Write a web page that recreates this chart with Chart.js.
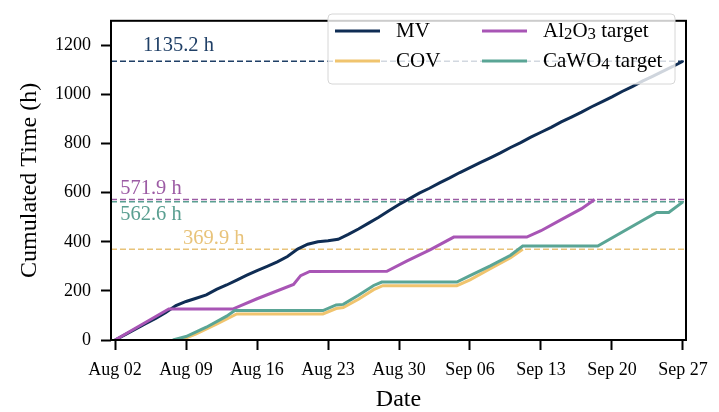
<!DOCTYPE html>
<html>
<head>
<meta charset="utf-8">
<script src="https://cdn.jsdelivr.net/npm/chart.js@4.4.1/dist/chart.umd.min.js"></script>
<style>
    html, body { margin: 0; padding: 0; background: #ffffff; }
    #wrap { width: 719px; height: 412px; }
</style>
</head>
<body>
<div id="wrap"><canvas id="timeChart" width="719" height="412"></canvas></div>
<script>
// x values are days since Aug 02
const tickDays = [0, 7, 14, 21, 28, 35, 42, 49, 56];
const tickLabels = ['Aug 02', 'Aug 09', 'Aug 16', 'Aug 23', 'Aug 30', 'Sep 06', 'Sep 13', 'Sep 20', 'Sep 27'];
const yTicks = [0, 200, 400, 600, 800, 1000, 1200];

const mvDays = [0, 1, 2, 3, 4, 5, 6, 7, 8, 9, 10, 11, 12, 13, 14, 15, 16, 17, 18, 19, 20, 21, 22, 23, 24, 25, 26, 27, 28,
    29, 30, 31, 32, 33, 34, 35, 36, 37, 38, 39, 40, 41, 42, 43, 44, 45, 46, 47, 48, 49, 50, 51, 52, 53, 54, 55, 56];
const mvHours = [0, 22, 44, 66, 88, 112, 140, 157, 170, 184, 206, 224, 244, 264, 283, 300, 318, 340, 370, 390, 400, 404, 410,
    430, 452, 476, 500, 526, 552, 575, 598, 618, 640, 660, 682, 702, 722, 742, 762, 784, 804, 826, 846, 866, 888, 908, 928,
    950, 970, 990, 1012, 1032, 1054, 1074, 1094, 1114, 1135.2];

const covDays = [6.5, 8, 10, 12, 20.5, 21.8, 22.5, 24, 25.5, 26.4, 33.7, 35, 37, 39, 40.2];
const covHours = [0, 25, 65, 106, 106, 128, 132, 166, 205, 221, 221, 245, 290, 335, 369.9];

const al2o3Days = [0, 5.3, 11.6, 14, 17.6, 18.3, 19.2, 26.8, 28.8, 31.1, 33.4, 40.6, 42, 44, 46, 47.3];
const al2o3Hours = [0, 126, 126, 168, 226, 262, 279, 280, 322, 368, 419, 419, 445, 490, 535, 571.9];

const cawo4Days = [5.7, 7, 9, 11, 11.8, 20.5, 21.8, 22.5, 24, 25.5, 26.3, 33.7, 35, 37, 39, 40.2, 47.6, 53.4, 54.6, 56];
const cawo4Hours = [0, 14, 52, 97, 120, 120, 143, 145, 182, 222, 236, 236, 262, 302, 345, 383, 383, 519, 519, 562.6];

// final totals shown as dashed lines
const totalNames = ['MV', 'Al2O3', 'CaWO4', 'COV'];
const totalHours = [1135.2, 571.9, 562.6, 369.9];

const X_MIN = -0.4;
const X_MAX = 56.3;

const colors = {
    MV: '#0f2d54',
    COV: '#f0c46e',
    Al2O3: '#a855b5',
    CaWO4: '#5aa595'
};
const textColors = {
    MV: '#1f3f66',
    COV: '#e8c37a',
    Al2O3: '#9c5ba4',
    CaWO4: '#5a9f91'
};

// where each total label sits: day of its left edge, pixel offset from its line
const labelSpots = {
    MV: { day: 2.75, dy: -16 },
    Al2O3: { day: 0.5, dy: -11 },
    CaWO4: { day: 0.5, dy: 13 },
    COV: { day: 6.7, dy: -11 }
};

const SERIF = '"Liberation Serif", "DejaVu Serif", serif';

function toPoints(days, hours) {
    return days.map((d, i) => ({ x: d, y: hours[i] }));
}

function seriesDataset(name, days, hours, order) {
    return {
        label: name,
        data: toPoints(days, hours),
        borderColor: colors[name],
        backgroundColor: colors[name],
        borderWidth: 3,
        pointRadius: 0,
        tension: 0,
        order: order
    };
}

function totalDatasets() {
    return totalNames.map((name, i) => ({
        label: name + ' total',
        data: [{ x: X_MIN, y: totalHours[i] }, { x: X_MAX, y: totalHours[i] }],
        borderColor: textColors[name],
        borderWidth: 1.5,
        borderDash: [6, 3],
        pointRadius: 0,
        order: 10
    }));
}

// draw text with subscript digits (Al2O3, CaWO4)
function drawChem(ctx, text, x, y, size) {
    const parts = text.split(/(\d)/);
    parts.forEach((p, i) => {
        if (!p) return;
        const isSub = i % 2 === 1;
        ctx.font = (isSub ? size * 0.8 : size) + 'px ' + SERIF;
        ctx.fillText(p, x, isSub ? y + 4 : y);
        x += ctx.measureText(p).width;
    });
}

// total labels above/below the dashed lines
const totalLabels = {
    id: 'totalLabels',
    afterDatasetsDraw(chart) {
        const ctx = chart.ctx;
        const xs = chart.scales.x;
        const ys = chart.scales.y;
        ctx.save();
        ctx.textBaseline = 'middle';
        ctx.textAlign = 'left';
        ctx.font = '20.5px ' + SERIF;
        totalNames.forEach((name, i) => {
            const spot = labelSpots[name];
            ctx.fillStyle = textColors[name];
            ctx.fillText(totalHours[i].toFixed(1) + ' h', xs.getPixelForValue(spot.day), ys.getPixelForValue(totalHours[i]) + spot.dy);
        });
        ctx.restore();
    }
};

// frame round the plot and the legend box
const frameAndLegend = {
    id: 'frameAndLegend',
    afterDraw(chart) {
        const ctx = chart.ctx;
        const a = chart.chartArea;
        ctx.save();
        ctx.strokeStyle = '#000000';
        ctx.lineWidth = 2;
        ctx.strokeRect(a.left, a.top, a.right - a.left, a.bottom - a.top);

        // legend box
        const bx = 328, by = 14, bw = 347, bh = 70;
        ctx.beginPath();
        ctx.roundRect(bx, by, bw, bh, 4);
        ctx.fillStyle = 'rgba(255,255,255,0.8)';
        ctx.fill();
        ctx.strokeStyle = '#d6d6d6';
        ctx.lineWidth = 1;
        ctx.stroke();

        const entries = [
            { name: 'MV', text: 'MV', x: 335, y: 31 },
            { name: 'COV', text: 'COV', x: 335, y: 61 },
            { name: 'Al2O3', text: 'Al2O3 target', x: 482, y: 31 },
            { name: 'CaWO4', text: 'CaWO4 target', x: 482, y: 61 }
        ];
        entries.forEach(e => {
            ctx.strokeStyle = colors[e.name];
            ctx.lineWidth = 3;
            ctx.beginPath();
            ctx.moveTo(e.x, e.y);
            ctx.lineTo(e.x + 45, e.y);
            ctx.stroke();
            ctx.fillStyle = '#000000';
            ctx.textBaseline = 'middle';
            ctx.textAlign = 'left';
            drawChem(ctx, e.text, e.x + 61, e.y, 21);
        });
        ctx.restore();
    }
};

function initializeTimeChart() {
    const ctx = document.getElementById('timeChart').getContext('2d');

    new Chart(ctx, {
        type: 'line',
        data: {
            datasets: [
                seriesDataset('MV', mvDays, mvHours, 4),
                seriesDataset('COV', covDays, covHours, 3),
                seriesDataset('Al2O3', al2o3Days, al2o3Hours, 2),
                seriesDataset('CaWO4', cawo4Days, cawo4Hours, 1)
            ].concat(totalDatasets())
        },
        options: {
            responsive: false,
            animation: false,
            layout: {
                padding: { top: 5, right: 33, left: 0, bottom: 0 }
            },
            scales: {
                x: {
                    type: 'linear',
                    min: X_MIN,
                    max: X_MAX,
                    border: { display: false },
                    grid: {
                        drawOnChartArea: false,
                        drawTicks: true,
                        tickLength: 10,
                        tickWidth: 2,
                        tickColor: '#000000'
                    },
                    ticks: {
                        color: '#000000',
                        padding: 9,
                        maxRotation: 0,
                        font: { family: SERIF, size: 18 },
                        callback: value => tickLabels[tickDays.indexOf(value)]
                    },
                    afterBuildTicks: scale => {
                        scale.ticks = tickDays.map(v => ({ value: v }));
                    },
                    afterFit: scale => { scale.height = 72; },
                    title: {
                        display: true,
                        text: 'Date',
                        color: '#000000',
                        padding: { top: 0, bottom: 0 },
                        font: { family: SERIF, size: 24, lineHeight: 1 }
                    }
                },
                y: {
                    min: 0,
                    max: 1300,
                    border: { display: false },
                    grid: {
                        drawOnChartArea: false,
                        drawTicks: true,
                        tickLength: 10,
                        tickWidth: 2,
                        tickColor: '#000000'
                    },
                    ticks: {
                        color: '#000000',
                        padding: 10,
                        font: { family: SERIF, size: 18 },
                        callback: value => String(value)
                    },
                    afterBuildTicks: scale => {
                        scale.ticks = yTicks.map(v => ({ value: v }));
                    },
                    afterFit: scale => { scale.width = 111; },
                    title: {
                        display: true,
                        text: 'Cumulated Time (h)',
                        color: '#000000',
                        padding: { top: 18, bottom: 0 },
                        font: { family: SERIF, size: 24, lineHeight: 1 }
                    }
                }
            },
            plugins: {
                legend: { display: false },
                tooltip: { enabled: false }
            }
        },
        plugins: [totalLabels, frameAndLegend]
    });
}

document.addEventListener('DOMContentLoaded', function() {
    initializeTimeChart();
});
</script>
</body>
</html>
